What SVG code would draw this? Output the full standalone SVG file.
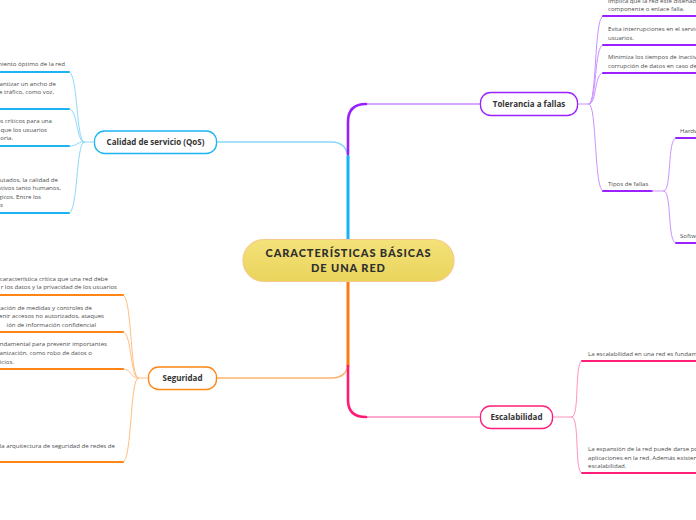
<svg xmlns="http://www.w3.org/2000/svg" width="696" height="520" viewBox="0 0 696 520">
<defs>
<linearGradient id="cg" x1="0" y1="0" x2="0" y2="1">
<stop offset="0" stop-color="#F4E27A"/>
<stop offset="1" stop-color="#E9D45C"/>
</linearGradient>
<style>
.t{font-family:"Open Sans","Noto Sans",sans-serif;font-size:6.1px;fill:#4d4d4d}
.e{text-anchor:end}
.n{font-family:"Open Sans","Noto Sans",sans-serif;font-size:8px;font-weight:700;fill:#333;text-anchor:middle}
.h{font-family:"Lato","Open Sans",sans-serif;font-size:11px;font-weight:900;letter-spacing:0.9px;fill:#2e2e2e;text-anchor:middle}
.c{fill:none;stroke-linecap:round}
.bl{stroke:#8ED9F8;stroke-width:1}
.bu{stroke:#1CB5F2;stroke-width:2}
.pl{stroke:#CB92FF;stroke-width:1}
.pu{stroke:#9B22FF;stroke-width:2}
.ol{stroke:#FFBE80;stroke-width:1}
.ou{stroke:#FF8515;stroke-width:2}
.kl{stroke:#FF93C1;stroke-width:1}
.ku{stroke:#FF1F7A;stroke-width:2}
</style>
</defs>
<rect width="696" height="520" fill="#FFFFFF"/>
<g id="connectors">
<path class="c" stroke="#86D8FA" stroke-width="1.5" d="M348,160 Q348,142 331,142 L217,142"/>
<path class="c" stroke="#14B4F5" stroke-width="3" d="M348,239 L348,156"/>
<path class="c" stroke="#C98BFF" stroke-width="1.5" d="M366,104 L480,104"/>
<path class="c" stroke="#9A1FFF" stroke-width="2.6" d="M348,154 L348,122 Q348,104 366,104"/>
<path class="c" stroke="#FFB46E" stroke-width="1.5" d="M348,362 Q348,378 331,378 L217,378"/>
<path class="c" stroke="#FF7A12" stroke-width="3" d="M348,281 L348,366"/>
<path class="c" stroke="#FF8FBE" stroke-width="1.5" d="M366,417 L480,417"/>
<path class="c" stroke="#FF1A75" stroke-width="2.6" d="M348,366 L348,400 Q348,417 366,417"/>
<path class="c bl" d="M94,142 L84,142"/>
<path class="c bl" d="M84,142 C76,142 78,72 69,72"/>
<path class="c bl" d="M84,142 C76,142 78,109 69,109"/>
<path class="c bl" d="M84,142 C76,142 78,146 69,146"/>
<path class="c bl" d="M84,142 C76,142 78,213 69,213"/>
<path class="c bu" d="M-2,72 L69,72"/>
<path class="c bu" d="M-2,109 L69,109"/>
<path class="c bu" d="M-2,146 L69,146"/>
<path class="c bu" d="M-2,213 L69,213"/>
<path class="c ol" d="M148,378 L138,378"/>
<path class="c ol" d="M138,378 C130,378 132,295 123,295"/>
<path class="c ol" d="M138,378 C130,378 132,332 123,332"/>
<path class="c ol" d="M138,378 C130,378 132,369 123,369"/>
<path class="c ol" d="M138,378 C130,378 132,462 123,462"/>
<path class="c ou" d="M-2,295 L123,295"/>
<path class="c ou" d="M-2,332 L123,332"/>
<path class="c ou" d="M-2,369 L123,369"/>
<path class="c ou" d="M-2,462 L123,462"/>
<path class="c pl" d="M578,104 L589,104"/>
<path class="c pl" d="M589,104 C597,104 594,16 603,16"/>
<path class="c pl" d="M589,104 C597,104 594,45 603,45"/>
<path class="c pl" d="M589,104 C597,104 594,73 603,73"/>
<path class="c pl" d="M589,104 C597,104 594,191 603,191"/>
<path class="c pu" d="M603,16 L698,16"/>
<path class="c pu" d="M603,45 L698,45"/>
<path class="c pu" d="M603,73 L698,73"/>
<path class="c pu" d="M603,191 L652,191"/>
<path class="c pl" d="M652,191 L664,191"/>
<path class="c pl" d="M664,191 C672,191 667,138 676,138"/>
<path class="c pl" d="M664,191 C672,191 667,243 676,243"/>
<path class="c pu" d="M676,138 L698,138"/>
<path class="c pu" d="M676,243 L698,243"/>
<path class="c kl" d="M552,417 L572,417"/>
<path class="c kl" d="M572,417 C580,417 574,361 582,361"/>
<path class="c kl" d="M572,417 C580,417 574,473 582,473"/>
<path class="c ku" d="M582,361 L698,361"/>
<path class="c ku" d="M582,473 L698,473"/>
</g>
<g id="central">
<rect x="243" y="239.5" width="211" height="42" rx="21" fill="url(#cg)" stroke="#F8C88A" stroke-width="1.2"/>
<text class="h" x="348.5" y="256.5">CARACTERÍSTICAS BÁSICAS</text>
<text class="h" x="348.5" y="272">DE UNA RED</text>
</g>
<g id="qos">
<rect x="94.5" y="131" width="122" height="22.5" rx="10" fill="#fff" stroke="#1CB5F2" stroke-width="1.3"/>
<text class="n" x="155.5" y="145">Calidad de servicio (QoS)</text>
<text class="t e" x="65" y="65.5">miento óptimo de la red</text>
<text class="t e" x="56" y="85.5">rantizar un ancho de</text>
<text class="t e" x="54" y="94">e tráfico, como voz,</text>
<text class="t e" x="52" y="123">os críticos para una</text>
<text class="t e" x="47" y="131.5">que los usuarios</text>
<text class="t e" x="13" y="140">oria.</text>
<text class="t e" x="58" y="181.5">utados, la calidad de</text>
<text class="t e" x="61" y="190">otivos tanto humanos,</text>
<text class="t e" x="41" y="198.5">gicos. Entre los</text>
<text class="t e" x="3" y="207">s</text>
</g>
<g id="seguridad">
<rect x="148.5" y="367" width="68" height="22.5" rx="10" fill="#fff" stroke="#FF8515" stroke-width="1.3"/>
<text class="n" x="182.5" y="381">Seguridad</text>
<text class="t e" x="108" y="280.5">característica crítica que una red debe</text>
<text class="t e" x="117" y="289">r los datos y la privacidad de los usuarios</text>
<text class="t e" x="92" y="309.5">tación de medidas y controles de</text>
<text class="t e" x="104" y="318">venir accesos no autorizados, ataques</text>
<text class="t e" x="96" y="327">ión de información confidencial</text>
<text class="t e" x="107" y="346">undamental para prevenir importantes</text>
<text class="t e" x="92" y="355">ganización, como robo de datos o</text>
<text class="t e" x="14" y="363.5">icios.</text>
<text class="t e" x="115" y="447.5">la arquitectura de seguridad de redes de</text>
</g>
<g id="tolerancia">
<rect x="480.5" y="92.5" width="97" height="23" rx="10" fill="#fff" stroke="#9B22FF" stroke-width="1.3"/>
<text class="n" x="529" y="107">Tolerancia a fallas</text>
<text class="t" x="608" y="3">implica que la red esté diseñada</text>
<text class="t" x="608" y="11">componente o enlace falla.</text>
<text class="t" x="608" y="31">Evita interrupciones en el servic</text>
<text class="t" x="608" y="39.5">usuarios.</text>
<text class="t" x="608" y="59">Minimiza los tiempos de inactivi</text>
<text class="t" x="608" y="68">corrupción de datos en caso de</text>
<text class="t" x="608" y="185.5">Tipos de fallas</text>
<text class="t" x="680" y="132.5">Hardw</text>
<text class="t" x="680" y="237.5">Softw</text>
</g>
<g id="escalabilidad">
<rect x="480.5" y="406" width="72" height="22.5" rx="10" fill="#fff" stroke="#FF1F7A" stroke-width="1.3"/>
<text class="n" x="516.5" y="420">Escalabilidad</text>
<text class="t" x="588" y="356">La escalabilidad en una red es fundame</text>
<text class="t" x="588" y="451">La expansión de la red puede darse po</text>
<text class="t" x="588" y="459.5">aplicaciones en la red. Además existen</text>
<text class="t" x="588" y="468">escalabilidad.</text>
</g>
</svg>
